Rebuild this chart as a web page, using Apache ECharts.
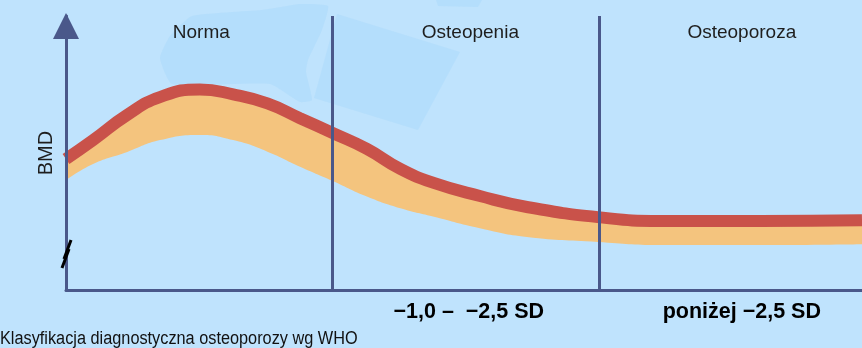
<!DOCTYPE html>
<html>
<head>
<meta charset="utf-8">
<script src="https://cdn.jsdelivr.net/npm/echarts@6/dist/echarts.min.js"></script>
<style>
html,body{margin:0;padding:0;background:#bfe3fd;}
#c{width:862px;height:348px;}
</style>
</head>
<body>
<div id="c"></div>
<script>
// Position along the life axis (0..100) and BMD (0..100, arbitrary units)
const xPos      = [0, 3.4, 7.7, 11.8, 16.8, 21.0, 25.3, 29.4, 33.5, 37.8, 42.0, 46.1, 52.0, 57.9, 66.8, 74.6, 87.2, 100];
const bmdUpper  = [47.8, 54.7, 63.9, 70.4, 73.2, 71.4, 68.1, 62.7, 57.3, 51.5, 44.2, 39.2, 34.3, 30.3, 26.6, 25.2, 25.2, 25.5];
const bmdLower  = [40.1, 46.0, 50.4, 54.7, 56.6, 54.7, 50.5, 45.0, 39.8, 34.1, 29.8, 26.8, 22.5, 19.3, 17.5, 16.4, 16.4, 16.7];
const thresholds = [33.5, 67.0];
const zoneLabels = ['Norma', 'Osteopenia', 'Osteoporoza'];
const zoneLabelPos = [17.0, 50.8, 84.9];
const sdLabels = ['\u22121,0 \u2013  \u22122,5 SD', 'poni\u017cej \u22122,5 SD'];
const sdLabelPos = [50.6, 84.9];
const caption = 'Klasyfikacja diagnostyczna osteoporozy wg WHO';

const axisColor = '#4a588a';
const chart = echarts.init(document.getElementById('c'), null, {renderer: 'canvas'});

// rows are [value, position] so the stacked dimension is the BMD value
const lowerRows = xPos.map((x, i) => [bmdLower[i], x]);
const bandRows  = xPos.map((x, i) => [bmdUpper[i] - bmdLower[i], x]);
const upperRows = xPos.map((x, i) => [bmdUpper[i], x]);

const option = {
  backgroundColor: '#bfe3fd',
  animation: false,
  grid: {left: 66, right: 0, top: 16, bottom: 58},
  graphic: [
    {type: 'polygon', z: -10, silent: true,
      shape: {points: [[160,58],[170,36],[192,16],[262,10],[300,4],[328,6],[322,30],[308,60],[306,72],[312,100],[300,102],[270,84],[172,84]], smooth: 0.15},
      style: {fill: '#a9d9fb', opacity: 0.5}},
    {type: 'polygon', z: -10, silent: true,
      shape: {points: [[337,14],[460,52],[418,130],[314,98]]},
      style: {fill: '#a9d9fb', opacity: 0.5}},
    {type: 'polygon', z: -10, silent: true,
      shape: {points: [[436,0],[482,0],[478,7],[438,6]]},
      style: {fill: '#a9d9fb', opacity: 0.5}},
    {type: 'line', z: 100, shape: {x1: 71, y1: 240, x2: 64, y2: 259}, style: {stroke: '#000', lineWidth: 3}},
    {type: 'line', z: 100, shape: {x1: 69, y1: 249, x2: 62, y2: 268}, style: {stroke: '#000', lineWidth: 3}},
    {type: 'text', x: 0, y: 330, scaleX: 0.905,
      style: {text: caption, fill: '#111', font: '18px "Liberation Sans", Arial, sans-serif'}}
  ],
  xAxis: [
    {type: 'value', min: 0, max: 100, position: 'bottom', z: 5,
      axisLine: {show: true, lineStyle: {color: axisColor, width: 3}},
      axisTick: {show: false}, splitLine: {show: false},
      axisLabel: {show: true, customValues: sdLabelPos, margin: 11,
        formatter: (v) => { const i = sdLabelPos.indexOf(v); return i >= 0 ? sdLabels[i] : ''; },
        color: '#000', fontWeight: 'bold', fontSize: 21.5, fontFamily: '"Liberation Sans", Arial, sans-serif'}},
    {type: 'value', min: 0, max: 100, position: 'top',
      axisLine: {show: false}, axisTick: {show: false}, splitLine: {show: false},
      axisLabel: {show: true, inside: true, customValues: zoneLabelPos, margin: 7,
        formatter: (v) => { const i = zoneLabelPos.indexOf(v); return i >= 0 ? zoneLabels[i] : ''; },
        color: '#1e1e1e', fontSize: 19, fontFamily: '"Liberation Sans", Arial, sans-serif'}}
  ],
  yAxis: {type: 'value', min: 0, max: 100, z: 5,
    name: 'BMD', nameLocation: 'middle', nameGap: 10, nameRotate: 90,
    nameTextStyle: {color: '#1e1e1e', fontSize: 20, fontFamily: '"Liberation Sans", Arial, sans-serif'},
    axisLine: {show: true, symbol: ['none', 'triangle'], symbolSize: [26, 26], symbolOffset: [0, -10],
      lineStyle: {color: axisColor, width: 3}},
    axisTick: {show: false}, axisLabel: {show: false}, splitLine: {show: false}},
  series: [
    {type: 'line', name: 'dividers', data: [], z: 1, silent: true,
      markLine: {silent: true, symbol: ['none', 'none'], label: {show: false},
        lineStyle: {color: axisColor, width: 3, type: 'solid'},
        data: thresholds.map(t => ({xAxis: t}))}},
    {type: 'line', name: 'lower', data: lowerRows, encode: {x: 1, y: 0}, stack: 'band', smooth: 0.5, z: 2,
      showSymbol: false, lineStyle: {opacity: 0}, silent: true},
    {type: 'line', name: 'band', data: bandRows, encode: {x: 1, y: 0}, stack: 'band', smooth: 0.5, z: 2,
      showSymbol: false, lineStyle: {opacity: 0}, areaStyle: {color: '#f4c47e', opacity: 1}, silent: true},
    {type: 'line', name: 'upper', data: upperRows, encode: {x: 1, y: 0}, smooth: 0.5, z: 3,
      showSymbol: false, lineStyle: {color: '#c9524a', width: 12}, silent: true}
  ]
};
chart.setOption(option);
</script>
</body>
</html>
